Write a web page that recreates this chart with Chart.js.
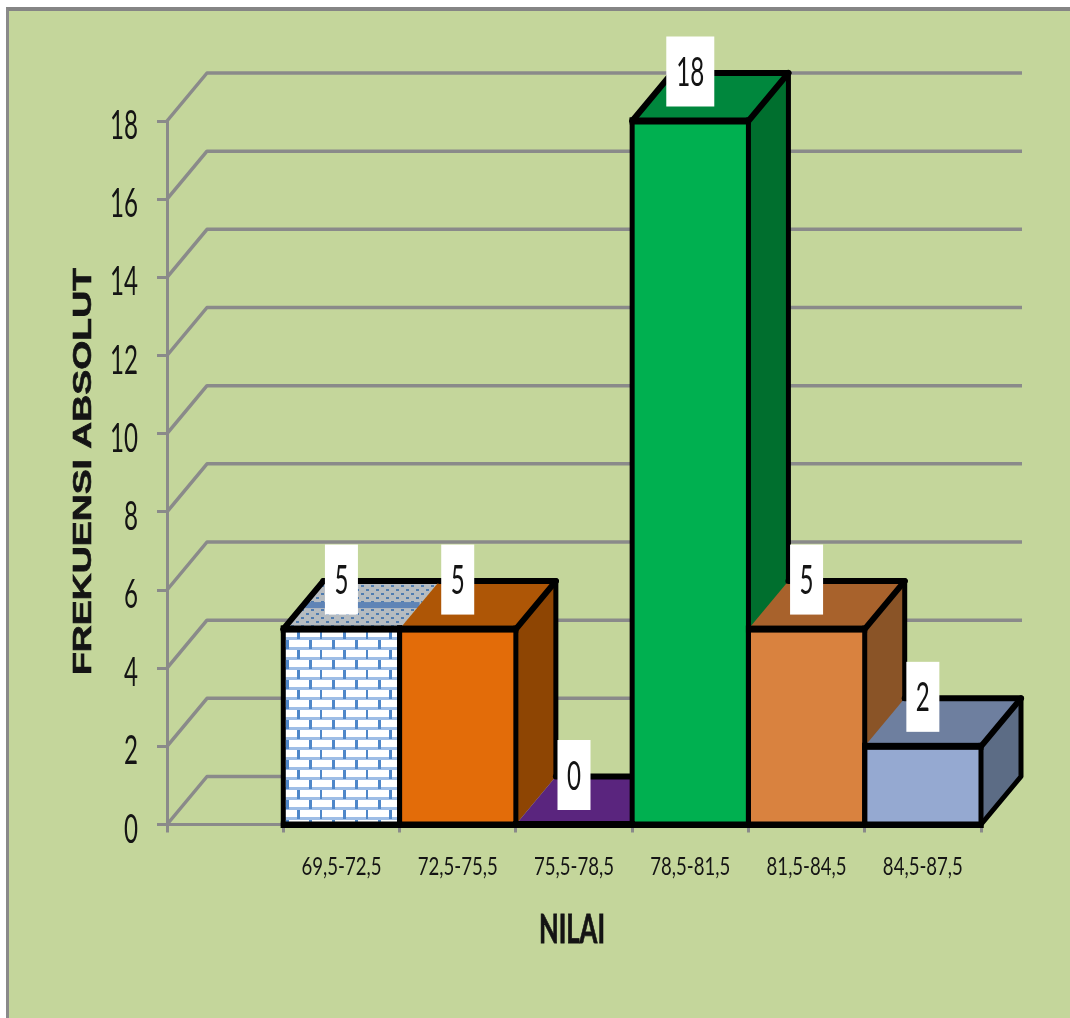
<!DOCTYPE html>
<html>
<head>
<meta charset="utf-8">
<title>Frekuensi Absolut</title>
<script src="https://cdn.jsdelivr.net/npm/chart.js@4"></script>
<style>
  html, body { margin: 0; padding: 0; background: #fff; overflow: hidden; }
  #frame {
    position: absolute; left: 6px; top: 7px; width: 1064px; height: 1011px;
    box-sizing: border-box; background: #c4d69b;
    border-left: 3px solid #8a8a8a; border-top: 4px solid #858585;
  }
  #chart { position: absolute; left: 0; top: 0; }
</style>
</head>
<body>
<div id="frame"></div>
<canvas id="chart" width="1070" height="1018"></canvas>
<script>
// first slot of the axis is empty in the original
const categories = ["", "69,5-72,5", "72,5-75,5", "75,5-78,5", "78,5-81,5", "81,5-84,5", "84,5-87,5"];
const frekuensi = [null, 5, 5, 0, 18, 5, 2];
const yTickStep = 2;
const yMax = 18;

const yTitle = "FREKUENSI ABSOLUT";
const xTitle = "NILAI";

const frontColors = ["#fff", "brick", "#e36c09", "#60267f", "#00b050", "#d9823f", "#95a9d1"];
const topColors = ["#fff", "dots", "#ae5606", "#5a257e", "#00873d", "#a8622c", "#6e7f9f"];
const sideColors = ["#fff", "#bbb", "#8e4503", "#4a1f68", "#006f2e", "#8a5427", "#5c6c85"];

const depthX = 40, depthY = -48;
const gridColor = "#8a8a8a";
const textColor = "#141414";

function brickPattern(ctx) {
  const c = document.createElement("canvas");
  c.width = 46; c.height = 20;
  const p = c.getContext("2d");
  p.fillStyle = "#fff"; p.fillRect(0, 0, 46, 20);
  p.fillStyle = "#9dbde6"; p.fillRect(0, 7, 46, 3); p.fillRect(0, 17, 46, 3);
  p.fillStyle = "#4f87c9";
  [10, 33].forEach(x => p.fillRect(x, 0, 3, 9));
  [21, 44].forEach(x => p.fillRect(x, 10, 3, 9));
  return ctx.createPattern(c, "repeat");
}

function dotPattern(ctx) {
  const c = document.createElement("canvas");
  c.width = 10; c.height = 8;
  const p = c.getContext("2d");
  p.fillStyle = "#b6bcc1"; p.fillRect(0, 0, 10, 8);
  p.fillStyle = "#4f7cb0";
  p.fillRect(1, 1, 3, 2); p.fillRect(6, 5, 3, 2);
  return ctx.createPattern(c, "repeat");
}

// squeezes text to a given width so it looks like the tall narrow labels of the original
function fitText(ctx, text, cx, cy, font, width, rotate, heavy) {
  ctx.save();
  ctx.font = font;
  ctx.fillStyle = textColor;
  ctx.strokeStyle = textColor;
  ctx.textAlign = "center";
  ctx.textBaseline = "alphabetic";
  const m = ctx.measureText(text);
  const cap = ctx.measureText("0");
  ctx.translate(cx, cy);
  if (rotate) ctx.rotate(-Math.PI / 2);
  ctx.scale(width / m.width, 1);
  ctx.fillText(text, 0, cap.actualBoundingBoxAscent / 2);
  if (heavy) {
    ctx.lineWidth = heavy;
    ctx.strokeText(text, 0, cap.actualBoundingBoxAscent / 2);
  }
  ctx.restore();
}

const wallPlugin = {
  id: "wall",
  beforeDatasetsDraw(chart) {
    const { ctx, chartArea, scales } = chart;
    ctx.save();
    ctx.strokeStyle = gridColor;
    ctx.lineWidth = 3.5;
    ctx.lineJoin = "round";
    scales.y.ticks.forEach(t => {
      const py = scales.y.getPixelForValue(t.value);
      ctx.beginPath();
      ctx.moveTo(chartArea.left, py);
      ctx.lineTo(chartArea.left + depthX, py + depthY);
      ctx.lineTo(chartArea.right + depthX + 1, py + depthY);
      ctx.stroke();
    });
    ctx.restore();
  }
};

const blockPlugin = {
  id: "block",
  beforeDatasetsDraw(chart) {
    const { ctx } = chart;
    const bars = chart.getDatasetMeta(0).data;
    const base = chart.scales.y.getPixelForValue(0);
    ctx.save();
    ctx.lineJoin = "round";
    ctx.lineCap = "round";
    ctx.strokeStyle = "#000";
    bars.forEach((bar, i) => {
      const v = frekuensi[i];
      if (v === null) return;
      const l = bar.x - bar.width / 2, r = bar.x + bar.width / 2, t = bar.y;
      const prev = frekuensi[i - 1], next = frekuensi[i + 1];

      // side face
      ctx.fillStyle = sideColors[i];
      ctx.beginPath();
      ctx.moveTo(r, t); ctx.lineTo(r + depthX, t + depthY);
      ctx.lineTo(r + depthX, base + depthY); ctx.lineTo(r, base);
      ctx.closePath();
      if (v > 0) ctx.fill();
      ctx.lineWidth = 5;
      ctx.beginPath();
      ctx.moveTo(r + depthX, t + depthY);
      ctx.lineTo(r + depthX, base + depthY);
      if (next === undefined) ctx.lineTo(r, base);
      if (v > 0) ctx.stroke();

      // top face
      ctx.fillStyle = topColors[i] === "dots" ? dotPattern(ctx) : topColors[i];
      ctx.beginPath();
      ctx.moveTo(l, t); ctx.lineTo(l + depthX, t + depthY);
      ctx.lineTo(r + depthX, t + depthY); ctx.lineTo(r, t);
      ctx.closePath();
      ctx.fill();
      if (topColors[i] === "dots") {
        ctx.fillStyle = "#5f84b6";
        ctx.fillRect(l + depthX / 2, t + depthY / 2 - 3, bar.width, 6);
      }

      ctx.lineWidth = 6;
      if (prev === null || (prev !== undefined && prev < v)) {
        ctx.beginPath(); ctx.moveTo(l, t); ctx.lineTo(l + depthX, t + depthY); ctx.stroke();
      }
      ctx.beginPath(); ctx.moveTo(l + depthX, t + depthY); ctx.lineTo(r + depthX, t + depthY); ctx.stroke();
      if (next === undefined || next < v) {
        ctx.beginPath(); ctx.moveTo(r, t); ctx.lineTo(r + depthX, t + depthY); ctx.stroke();
      }
    });
    ctx.restore();
  },
  afterDatasetsDraw(chart) {
    const { ctx } = chart;
    const bars = chart.getDatasetMeta(0).data;
    const base = chart.scales.y.getPixelForValue(0);
    ctx.save();
    ctx.fillStyle = "#000";
    bars.forEach((bar, i) => {
      if (frekuensi[i] === null) return;
      const l = bar.x - bar.width / 2, t = bar.y;
      ctx.fillRect(l - 2.5, t - 3.5, 5, base - t + 7);
      ctx.fillRect(l + bar.width - 2.5, t - 3.5, 5, base - t + 7);
      ctx.fillRect(l - 2.5, t - 3.5, bar.width + 5, 7);
      ctx.fillRect(l - 2.5, base - 3, bar.width + 5, 6.5);
    });
    ctx.restore();
  }
};

const textPlugin = {
  id: "texts",
  afterDraw(chart) {
    const { ctx, chartArea, scales } = chart;
    // y tick labels
    scales.y.ticks.forEach(t => {
      const py = scales.y.getPixelForValue(t.value);
      const label = String(t.value);
      const w = 14 * label.length;
      fitText(ctx, label, chartArea.left - 29 - w / 2, py + 3.5, "40px Lato", w);
    });
    // category labels
    categories.forEach((c, i) => {
      if (c) fitText(ctx, c, scales.x.getPixelForValue(i), chartArea.bottom + 41, "25px Lato", 80);
    });
    // data labels in white boxes
    chart.getDatasetMeta(0).data.forEach((bar, i) => {
      const v = frekuensi[i];
      if (v === null) return;
      const s = String(v);
      const bw = s.length > 1 ? 48 : 33, cy = bar.y - 49.5;
      ctx.fillStyle = "#fff";
      ctx.fillRect(bar.x - bw / 2, cy - 35, bw, 70);
      fitText(ctx, s, bar.x, cy, "41px Lato", 14 * s.length);
    });
    // axis titles
    fitText(ctx, xTitle, 572, 928, "bold 40px Lato", 66, false, 0.8);
    fitText(ctx, yTitle, 81.5, 471.5, "bold 26px 'Liberation Sans'", 407, true, 0.6);
  }
};

const canvas = document.getElementById("chart");
const c2d = canvas.getContext("2d");
const fills = frontColors.map(c => c === "brick" ? brickPattern(c2d) : c);

new Chart(canvas, {
  type: "bar",
  data: {
    labels: categories,
    datasets: [{ label: "Frekuensi", data: frekuensi, backgroundColor: fills, borderWidth: 0, barPercentage: 1, categoryPercentage: 1 }]
  },
  options: {
    responsive: false,
    animation: false,
    devicePixelRatio: 1,
    layout: { padding: { top: 121, right: 89, left: 0, bottom: 0 } },
    plugins: { legend: { display: false }, title: { display: false }, tooltip: { enabled: false } },
    scales: {
      x: {
        afterFit: s => { s.height = 193.5; },
        grid: { color: gridColor, lineWidth: 3, tickLength: 8, drawOnChartArea: false },
        border: { color: gridColor, width: 3 },
        ticks: { display: false, autoSkip: false }
      },
      y: {
        min: 0, max: yMax,
        afterFit: s => { s.width = 167; },
        grid: { color: gridColor, lineWidth: 3, tickLength: 10, drawOnChartArea: false },
        border: { color: gridColor, width: 3 },
        ticks: { display: false, stepSize: yTickStep }
      }
    }
  },
  plugins: [wallPlugin, blockPlugin, textPlugin]
});
</script>
</body>
</html>
